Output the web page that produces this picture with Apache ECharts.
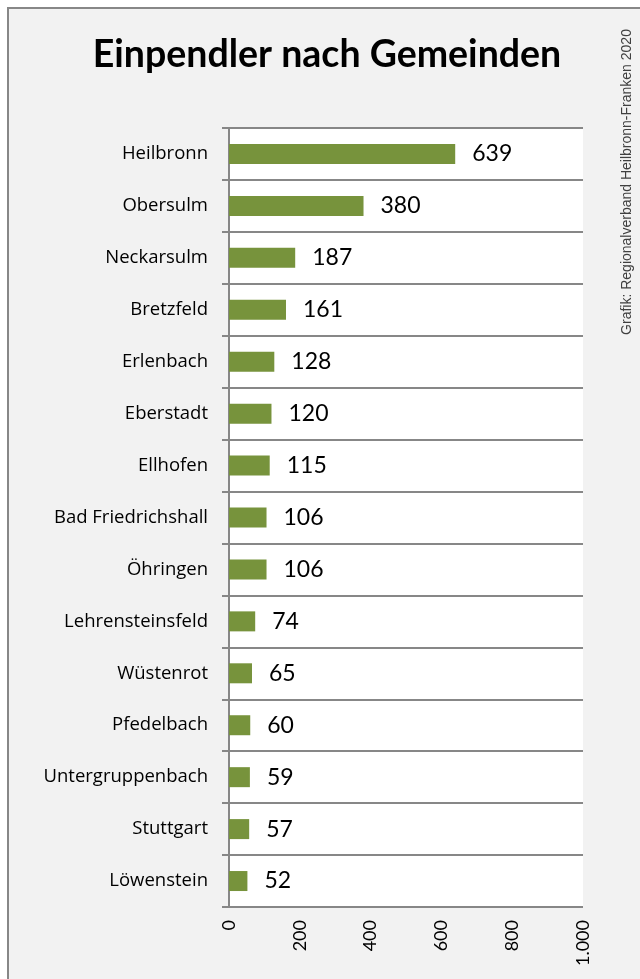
<!DOCTYPE html>
<html><head><meta charset="utf-8">
<script src="https://cdn.jsdelivr.net/npm/echarts@6/dist/echarts.min.js"></script>
<style>html,body{margin:0;padding:0;background:#fff;}#c{width:640px;height:979px;}</style>
</head><body><div id="c"></div>
<script>
const categories = ['Heilbronn','Obersulm','Neckarsulm','Bretzfeld','Erlenbach','Eberstadt','Ellhofen','Bad Friedrichshall','Öhringen','Lehrensteinsfeld','Wüstenrot','Pfedelbach','Untergruppenbach','Stuttgart','Löwenstein'];
const values = [639,380,187,161,128,120,115,106,106,74,65,60,59,57,52];
const xTicks = {0:'0',200:'200',400:'400',600:'600',800:'800',1000:'1.000'};
const titleText = 'Einpendler nach Gemeinden';
const sourceText = 'Grafik: Regionalverband Heilbronn-Franken 2020';

const chart = echarts.init(document.getElementById('c'));
chart.setOption({
  backgroundColor: '#ffffff',
  animation: false,
  graphic: [
    {type:'rect', z:-10, shape:{x:8,y:8,width:700,height:1100}, style:{fill:'#f2f2f2', stroke:'#878787', lineWidth:2}},
    {type:'text', rotation: Math.PI/2, x:620, y:182, style:{text:sourceText, font:'14px "Liberation Sans Narrow", "Liberation Sans"', fill:'#404040', align:'center', verticalAlign:'top'}}
  ],
  title: {
    text: titleText, left: 326, top: 31, textAlign: 'center',
    textStyle: {fontFamily:'Lato', fontWeight:'bold', fontSize:37.5, color:'#000'}
  },
  grid: {left:229, right:57, top:128, bottom:72, show:true, backgroundColor:'#ffffff', borderWidth:0},
  xAxis: {
    type:'value', min:0, max:1000, interval:200,
    axisLine:{show:false}, axisTick:{show:false}, splitLine:{show:false},
    axisLabel:{rotate:90, margin:13, fontFamily:'Lato', fontSize:18, color:'#000', formatter: v => xTicks[v]}
  },
  yAxis: {
    type:'category', data:categories, inverse:true,
    axisLine:{show:true, lineStyle:{color:'#878787', width:2}},
    axisTick:{show:true, length:7, lineStyle:{color:'#878787', width:2}},
    splitLine:{show:true, lineStyle:{color:'#878787', width:2}},
    axisLabel:{margin:21, fontFamily:'Open Sans', fontSize:18.5, color:'#000'}
  },
  series: [{
    type:'bar', data:values, barWidth:20,
    itemStyle:{color:'#77933C'},
    label:{show:true, position:'right', distance:17, fontFamily:'Lato', fontSize:23, color:'#000'}
  }]
});
chart.setOption({title:{left:322}});
</script></body></html>
